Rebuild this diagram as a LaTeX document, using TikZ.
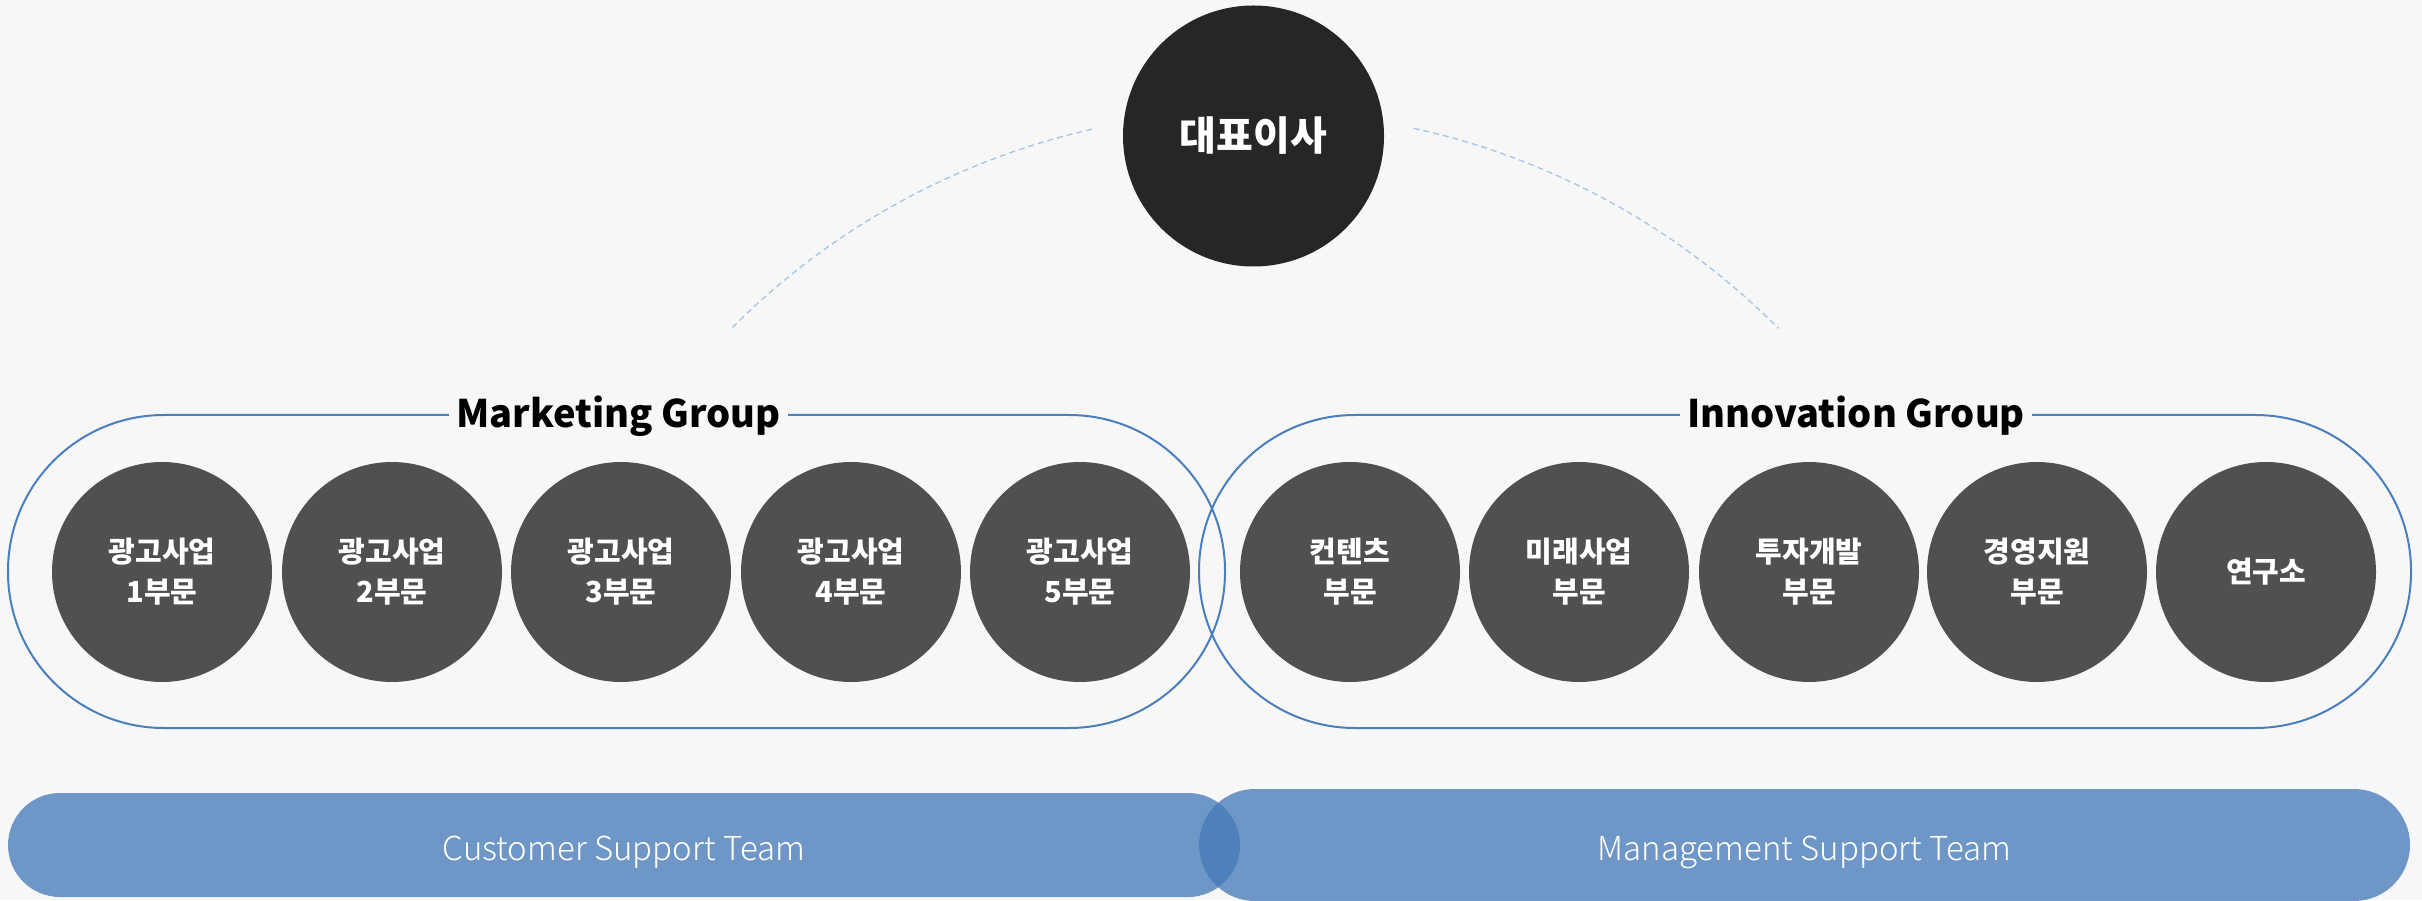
\documentclass[tikz,border=0pt]{standalone}
\usepackage{fontspec}
\setmainfont{Noto Sans CJK KR}
\newfontfamily\thinfont{Noto Sans CJK KR Light}
\usetikzlibrary{calc}
\definecolor{bg}{HTML}{F7F7F7}
\definecolor{ceogray}{HTML}{262626}
\definecolor{deptgray}{HTML}{505050}
\definecolor{groupline}{HTML}{4A7EBD}
\definecolor{barblue}{HTML}{4479B8}
\definecolor{arcblue}{HTML}{A9C3E3}
\begin{document}
\begin{tikzpicture}[x=1pt, y=1pt,
  dept/.style={circle, fill=deptgray, minimum size=220pt, inner sep=0pt, text=white,
    align=center, font=\bfseries\fontsize{29}{40}\selectfont},
  group/.style={draw=groupline, line width=2pt, rounded corners=156pt, minimum height=313pt, inner sep=0pt},
  grouplabel/.style={fill=bg, inner xsep=7pt, inner ysep=2pt, anchor=base, font=\bfseries\fontsize{38}{46}\selectfont},
  team/.style={fill=barblue, fill opacity=.76, text opacity=1, text=white, inner sep=0pt,
    text height=39pt, text depth=8pt, font=\thinfont\fontsize{33}{40}\selectfont},
  linkarc/.style={draw=arcblue, line width=1.3pt, dash pattern=on 6pt off 4pt}]
\fill[bg] (0,0) rectangle (2422,900);
\useasboundingbox (0,0) rectangle (2422,900);

% top
\node[circle, fill=ceogray, minimum size=261pt, inner sep=0pt, text=white,
  font=\bfseries\fontsize{40}{48}\selectfont] (ceo) at (1253.5,764) {대표이사};
\coordinate (hub) at (1255,50);
\draw[linkarc] (hub) ++(135:739) arc[start angle=135, end angle=102.4, radius=739];
\draw[linkarc] (hub) ++(77.6:739) arc[start angle=77.6, end angle=44.9, radius=739];

% groups
\node[group, minimum width=1217pt] (mkt) at (616.5,328.5) {};
\node[group, minimum width=1212pt] (inn) at (1805,328.5) {};
\node[grouplabel] at ($(mkt.north)+(2,-14)$) {Marketing Group};
\node[grouplabel] at ($(inn.north)+(51,-14)$) {Innovation Group};

\foreach \name/\px/\txt in {ad1/162/{광고사업\\1부문}, ad2/392/{광고사업\\2부문},
    ad3/621/{광고사업\\3부문}, ad4/851/{광고사업\\4부문}, ad5/1080/{광고사업\\5부문},
    cont/1350/{컨텐츠\\부문}, future/1579/{미래사업\\부문}, invest/1809/{투자개발\\부문},
    mgmt/2037/{경영지원\\부문}, lab/2266/{연구소}}
  \node[dept] (\name) at (\px,328) {\txt};

% teams
\node[team, minimum width=1232pt, minimum height=104pt, rounded corners=52pt] (cst) at (624,55) {Customer Support Team};
\node[team, minimum width=1211pt, minimum height=112pt, rounded corners=56pt] (mst) at (1804.5,55) {Management Support Team};

\end{tikzpicture}
\end{document}
